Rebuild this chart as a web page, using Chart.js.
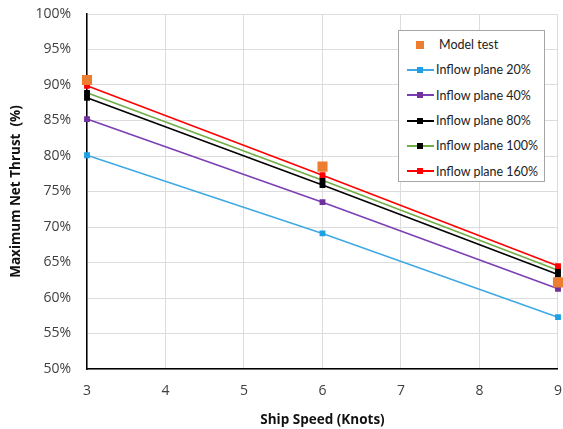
<!DOCTYPE html>
<html>
<head>
<meta charset="utf-8">
<script src="https://cdn.jsdelivr.net/npm/chart.js@4"></script>
<style>
  body { margin: 0; background: #fff; overflow: hidden; }
  #wrap { position: relative; width: 563px; height: 429px; overflow: hidden; }
  #legend {
    position: absolute; left: 398px; top: 30px; width: 147px; height: 152px;
    border: 1px solid #a6a6a6; background: #fff; font-family: Lato, "Open Sans", sans-serif;
    font-size: 12.5px; color: #222; box-sizing: border-box; padding-top: 1px;
  }
  .row { display: flex; align-items: center; height: 25.3px; }
  .sym { position: relative; width: 27px; height: 10px; margin-left: 8px; margin-right: 2px; }
  .sym .ln { position: absolute; left: 0; right: 0; top: 4px; height: 2px; }
  .sym .mk { position: absolute; left: 10px; top: 2px; width: 6px; height: 6px; }
</style>
</head>
<body>
<div id="wrap">
  <canvas id="chart" width="576" height="429"></canvas>
  <div id="legend"></div>
</div>
<script>
const speeds = [3, 6, 9];
const modelTest = [90.7, 78.5, 62.2];
const plane20 = [80.1, 69.1, 57.3];
const plane40 = [85.2, 73.5, 61.3];
const plane80 = [88.2, 75.9, 63.3];
const plane100 = [88.9, 76.6, 63.9];
const plane160 = [89.9, 77.3, 64.5];
const yTicks = [50, 55, 60, 65, 70, 75, 80, 85, 90, 95, 100];

const series = [
  { label: "Model test", data: modelTest, line: null, marker: "#ED7D31", big: true },
  { label: "Inflow plane 20%", data: plane20, line: "#3FA9E6", marker: "#1EA0E6" },
  { label: "Inflow plane 40%", data: plane40, line: "#7B3FB5", marker: "#7030A0" },
  { label: "Inflow plane 80%", data: plane80, line: "#000000", marker: "#000000" },
  { label: "Inflow plane 100%", data: plane100, line: "#70AD47", marker: "#000000" },
  { label: "Inflow plane 160%", data: plane160, line: "#FF0000", marker: "#FF0000" },
];

function toPoints(arr) {
  return arr.map((v, i) => ({ x: speeds[i], y: v }));
}

const datasets = series.map((s, i) => ({
  label: s.label,
  data: toPoints(s.data),
  showLine: s.line !== null,
  borderColor: s.line || s.marker,
  borderWidth: 1.6,
  pointStyle: "rect",
  pointRadius: s.big ? 6 : 3,
  pointBackgroundColor: s.marker,
  pointBorderColor: s.marker,
  clip: false,
  order: s.big ? 0 : 6 - i,
}));

// legend in the plot, like the original
const legend = document.getElementById("legend");
series.forEach((s) => {
  const row = document.createElement("div");
  row.className = "row";
  const sym = document.createElement("div");
  sym.className = "sym";
  if (s.line) {
    const ln = document.createElement("div");
    ln.className = "ln";
    ln.style.background = s.line;
    sym.appendChild(ln);
  }
  const mk = document.createElement("div");
  mk.className = "mk";
  mk.style.background = s.marker;
  if (s.big) { mk.style.left = "9px"; mk.style.top = "1px"; mk.style.width = "8px"; mk.style.height = "8px"; }
  sym.appendChild(mk);
  const txt = document.createElement("span");
  txt.textContent = s.label;
  if (s.big) txt.style.marginLeft = "3px";
  row.appendChild(sym);
  row.appendChild(txt);
  legend.appendChild(row);
});

const tickFont = { family: "'Open Sans'", size: 14 };
const titleFont = { family: "'Open Sans'", size: 13.5, weight: "bold" };

const ctx = document.getElementById("chart").getContext("2d");
new Chart(ctx, {
  type: "scatter",
  data: { datasets: datasets },
  options: {
    responsive: false,
    animation: false,
    layout: { padding: { top: 14, right: 0, left: 0, bottom: 0 } },
    plugins: { legend: { display: false }, tooltip: { enabled: false } },
    scales: {
      x: {
        type: "linear",
        min: 3,
        max: 9,
        afterFit: (axis) => { axis.height = 60; },
        ticks: { stepSize: 1, color: "#404040", font: tickFont, padding: 14 },
        grid: { color: "#dcdcdc", drawTicks: false },
        border: { color: "#000", width: 1.5 },
        title: {
          display: true,
          text: "Ship Speed (Knots)",
          color: "#111",
          font: titleFont,
          padding: { top: 0, bottom: 1 },
        },
      },
      y: {
        min: 50,
        max: 100,
        afterFit: (axis) => { axis.width = 87; axis.paddingTop = 0; },
        afterBuildTicks: (axis) => { axis.ticks = yTicks.map((v) => ({ value: v })); },
        ticks: {
          color: "#404040",
          font: tickFont,
          padding: 16,
          callback: (v) => v + "%",
        },
        grid: { color: "#dcdcdc", drawTicks: false },
        border: { color: "#000", width: 1.5 },
        title: {
          display: true,
          text: "Maximum Net Thrust  (%)",
          color: "#111",
          font: titleFont,
          padding: { top: 8, bottom: 0 },
        },
      },
    },
  },
});
</script>
</body>
</html>
